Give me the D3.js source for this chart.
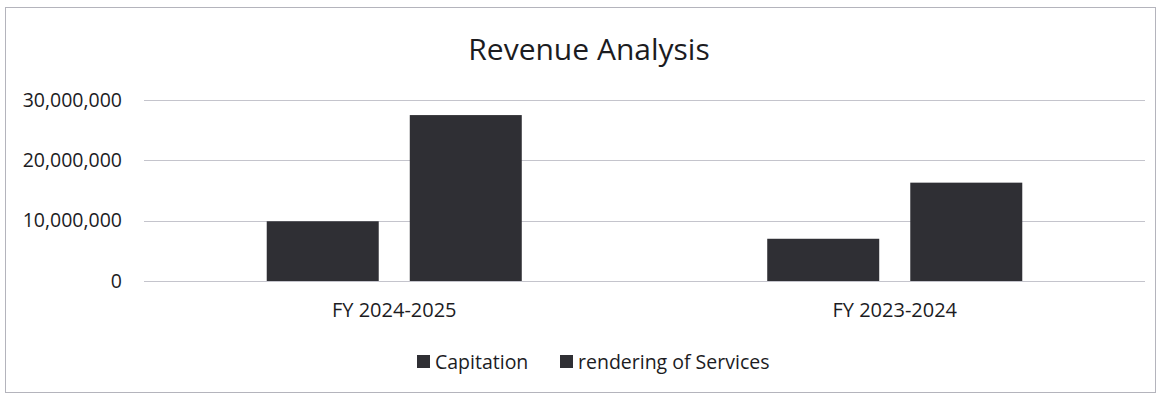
<!DOCTYPE html>
<html>
<head>
<meta charset="utf-8">
<script src="https://cdn.jsdelivr.net/npm/d3@7"></script>
<style>
  html, body { margin: 0; padding: 0; background: #fff; }
  svg { display: block; font-family: "Open Sans", sans-serif; }
</style>
</head>
<body>
<svg id="chart" width="1163" height="395"></svg>
<script>
// Data
const categories = ["FY 2024-2025", "FY 2023-2024"];
const series = ["Capitation", "rendering of Services"];
const capitation = [9900000, 7000000];
const rendering = [27500000, 16300000];
const yTicks = [0, 10000000, 20000000, 30000000];

const values = [capitation, rendering];
const barColor = "#2f2f34";
const textColor = "#1c1c1f";

// Layout
const plot = { left: 144, right: 1145, top: 100, bottom: 281 };

const svg = d3.select("#chart");

// Chart border
svg.append("rect")
  .attr("x", 5.5)
  .attr("y", 7.5)
  .attr("width", 1150)
  .attr("height", 385)
  .attr("fill", "none")
  .attr("stroke", "#b4b4bc")
  .attr("stroke-width", 1);

// Scales
const y = d3.scaleLinear().domain([0, 30000000]).range([plot.bottom, plot.top]);
const x0 = d3.scaleBand().domain(categories).range([plot.left, plot.right]);
const x1 = d3.scaleBand()
  .domain(series)
  .range([0, x0.bandwidth()])
  .paddingInner(0.217)
  .paddingOuter(0.858);

// Title
svg.append("text")
  .attr("x", 589)
  .attr("y", 60)
  .attr("text-anchor", "middle")
  .style("font-size", "30px")
  .style("fill", textColor)
  .text("Revenue Analysis");

// Gridlines
svg.append("g")
  .selectAll("line")
  .data(yTicks)
  .enter()
  .append("line")
  .attr("x1", plot.left)
  .attr("x2", plot.right)
  .attr("y1", (d) => Math.round(y(d)) + 0.5)
  .attr("y2", (d) => Math.round(y(d)) + 0.5)
  .attr("stroke", "#c4c4cc")
  .attr("stroke-width", 1);

// Y axis labels
const yAxis = svg.append("g")
  .attr("transform", `translate(${plot.left - 8},0)`)
  .call(d3.axisLeft(y).tickValues(yTicks).tickSize(0).tickPadding(14).tickFormat(d3.format(",")));
yAxis.select(".domain").remove();
yAxis.selectAll("text")
  .style("font-family", "'Open Sans', sans-serif")
  .style("font-size", "19.5px")
  .style("fill", textColor);

// Bars
const groups = svg.append("g")
  .selectAll("g")
  .data(categories)
  .enter()
  .append("g")
  .attr("transform", (d) => `translate(${x0(d)},0)`);

groups.selectAll("rect")
  .data((c, i) => series.map((s, j) => ({ s, v: values[j][i] })))
  .enter()
  .append("rect")
  .attr("x", (d) => x1(d.s))
  .attr("y", (d) => y(d.v))
  .attr("width", x1.bandwidth())
  .attr("height", (d) => y(0) - y(d.v))
  .attr("fill", barColor);

// Category axis labels
const xAxis = svg.append("g")
  .attr("transform", `translate(0,${plot.bottom})`)
  .call(d3.axisBottom(x0).tickSize(0).tickPadding(22));
xAxis.select(".domain").remove();
xAxis.selectAll("text")
  .style("font-family", "'Open Sans', sans-serif")
  .style("font-size", "20px")
  .style("fill", textColor);

// Legend
const legendItems = [
  { label: series[0], x: 417 },
  { label: series[1], x: 560 }
];
const legend = svg.append("g")
  .selectAll("g")
  .data(legendItems)
  .enter()
  .append("g")
  .attr("transform", (d) => `translate(${d.x},355)`);

legend.append("rect")
  .attr("width", 13)
  .attr("height", 13)
  .attr("fill", barColor);

legend.append("text")
  .attr("x", 18)
  .attr("y", 7)
  .attr("dy", "0.35em")
  .style("font-size", "19.5px")
  .style("fill", textColor)
  .text((d) => d.label);
</script>
</body>
</html>
